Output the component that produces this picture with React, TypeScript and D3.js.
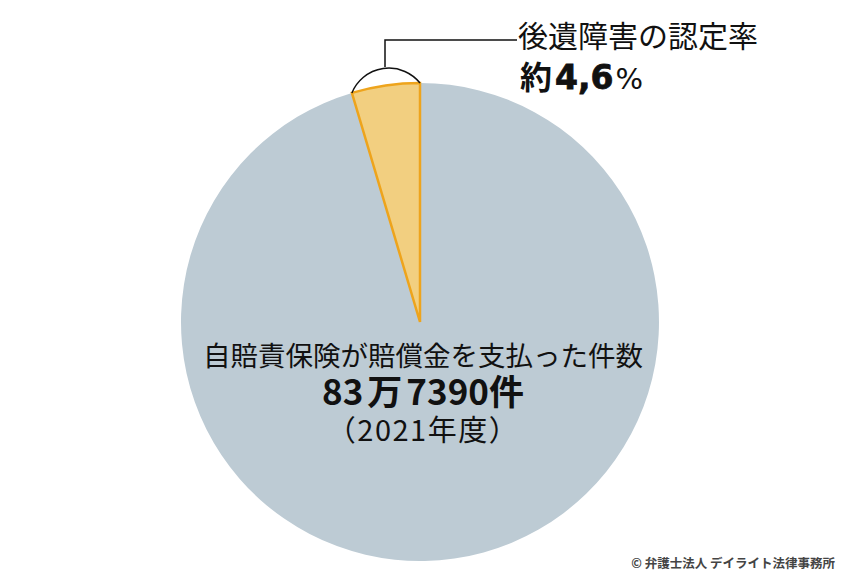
import React from "react";
import * as d3 from "d3";

// shares in percent
const sliceLabels = ["後遺障害の認定", "その他"];
const sliceValues = [4.6, 95.4];
const sliceFills = ["#f2cf80", "#bdcbd4"];

const calloutTitle = "後遺障害の認定率";
const calloutPrefix = "約";
const calloutValue = "4,6";
const calloutUnit = "%";

const centerTitle = "自賠責保険が賠償金を支払った件数";
const centerCountParts = ["83", "万", "7390", "件"];
const centerYear = "（2021年度）";

const credit = "© 弁護士法人 デイライト法律事務所";

const W = 850;
const H = 585;
const JP = "'Noto Sans CJK JP', 'Noto Sans', sans-serif";

export default function App() {
  const cx = 420;
  const cy = 322;
  const r = 239;

  const frac = sliceValues[0] / d3.sum(sliceValues);
  const pie = d3
    .pie<number>()
    .sort(null)
    .value((d) => d)
    .startAngle(-frac * 2 * Math.PI)
    .endAngle(2 * Math.PI - frac * 2 * Math.PI);
  const arcs = pie(sliceValues);
  const arc = d3.arc<d3.PieArcDatum<number>>().innerRadius(0).outerRadius(r);

  // corners of the small slice, for the bracket arc above it
  const a0 = arcs[0].startAngle;
  const a1 = arcs[0].endAngle;
  const p0 = [cx + r * Math.sin(a0), cy - r * Math.cos(a0)];
  const p1 = [cx + r * Math.sin(a1), cy - r * Math.cos(a1)];
  const bracketR = 40;
  const bracket = `M${p0[0]},${p0[1]} A${bracketR},${bracketR} 0 0 1 ${p1[0]},${p1[1]}`;
  const leaderX = 385;
  const leaderTop = 40;

  return (
    <svg
      width={W}
      height={H}
      style={{ position: "absolute", left: 0, top: 0, background: "#fff" }}
    >
      <g transform={`translate(${cx},${cy})`}>
        {arcs
          .slice()
          .reverse()
          .map((d, i) => {
            const idx = arcs.length - 1 - i;
            return (
              <path
                key={sliceLabels[idx]}
                d={arc(d) || ""}
                fill={sliceFills[idx]}
                stroke={idx === 0 ? "#eea41c" : "none"}
                strokeWidth={idx === 0 ? 2.5 : 0}
                strokeLinejoin="miter"
              />
            );
          })}
      </g>

      {/* bracket + leader */}
      <path d={bracket} fill="none" stroke="#111" strokeWidth={1.5} />
      <polyline
        points={`${leaderX},67 ${leaderX},${leaderTop} 517,${leaderTop}`}
        fill="none"
        stroke="#111"
        strokeWidth={1.5}
      />

      <text x={518} y={47} fontFamily={JP} fontSize={30} fill="#111">
        {calloutTitle}
      </text>
      <text y={89} fill="#111">
        <tspan x={520} fontFamily={JP} fontSize={32} fontWeight={700}>
          {calloutPrefix}
        </tspan>
        <tspan
          dx={3}
          fontFamily="'DejaVu Sans', sans-serif"
          fontSize={33}
          fontWeight={700}
          stroke="#111"
          strokeWidth={0.8}
        >
          {calloutValue}
        </tspan>
        <tspan
          dx={2}
          style={{ fontFamily: "'DejaVu Sans', sans-serif", fontSize: "29px", fontWeight: 500 }}
        >
          {calloutUnit}
        </tspan>
      </text>

      <text x={423} y={366} textAnchor="middle" fontFamily={JP} fontSize={27.5} fill="#111">
        {centerTitle}
      </text>
      <text x={423} y={405} textAnchor="middle" fontFamily={JP} fontSize={35} fontWeight={700} fill="#111">
        <tspan>{centerCountParts[0]}</tspan>
        <tspan dx={4}>{centerCountParts[1]}</tspan>
        <tspan dx={4}>{centerCountParts[2]}</tspan>
        <tspan>{centerCountParts[3]}</tspan>
      </text>
      <text x={423} y={441} textAnchor="middle" fontFamily={JP} fontSize={29} letterSpacing={1.5} fill="#111">
        {centerYear}
      </text>

      <text
        x={835}
        y={568}
        textAnchor="end"
        fontFamily={JP}
        fontSize={12.5}
        fontWeight={700}
        fill="#444"
      >
        {credit}
      </text>
    </svg>
  );
}
